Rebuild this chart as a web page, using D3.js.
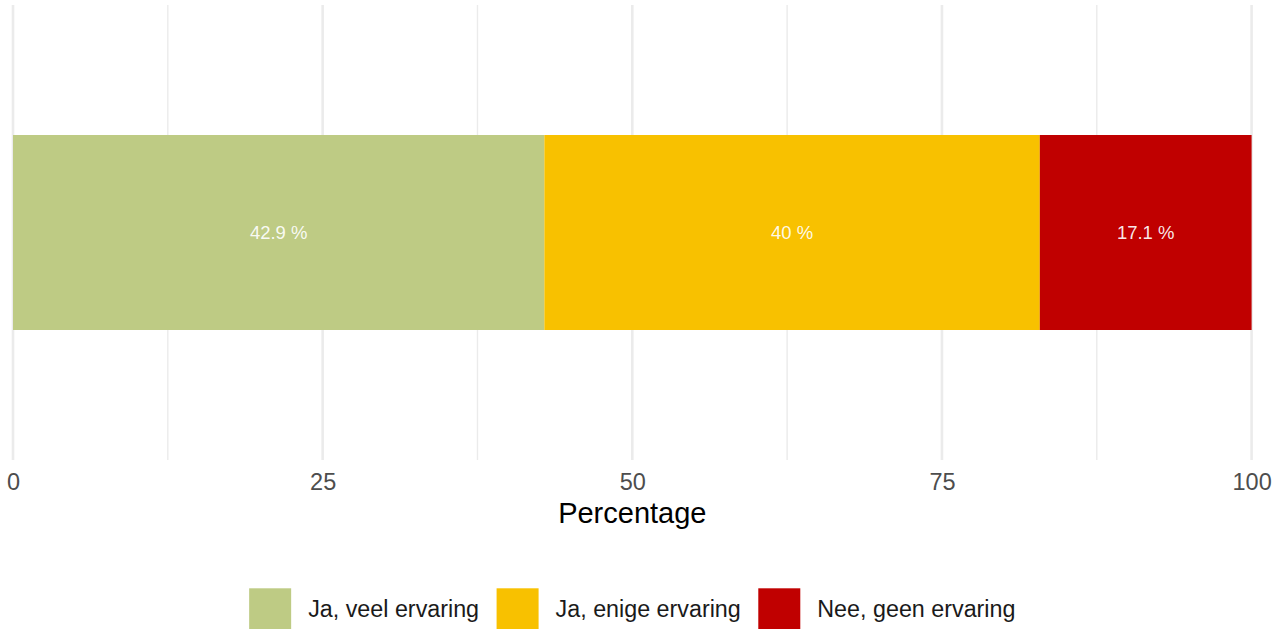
<!DOCTYPE html>
<html>
<head>
<meta charset="utf-8">
<script src="https://cdn.jsdelivr.net/npm/d3@7"></script>
<style>
  html, body { margin: 0; padding: 0; background: #ffffff; }
  svg { display: block; font-family: "Liberation Sans", Arial, sans-serif; }
</style>
</head>
<body>
<svg id="chart" width="1284" height="629"></svg>
<script>
// ---- data ----
const categories = ["Ja, veel ervaring", "Ja, enige ervaring", "Nee, geen ervaring"];
const values = [42.9, 40, 17.1];
const valueLabels = ["42.9 %", "40 %", "17.1 %"];
const colors = ["#becb84", "#f8c100", "#c00000"];
const majorTicks = [0, 25, 50, 75, 100];
const minorTicks = [12.5, 37.5, 62.5, 87.5];
const xTitle = "Percentage";

// ---- layout ----
const W = 1284, H = 629;
const plot = { left: 13, right: 1251.6, top: 5, bottom: 460 };
const svg = d3.select("#chart");

const x = d3.scaleLinear().domain([0, 100]).range([plot.left, plot.right]);

// grid
svg.append("g").selectAll("line").data(minorTicks).join("line")
  .attr("x1", d => x(d)).attr("x2", d => x(d))
  .attr("y1", plot.top).attr("y2", plot.bottom)
  .attr("stroke", "#ebebeb").attr("stroke-width", 1.4);
svg.append("g").selectAll("line").data(majorTicks).join("line")
  .attr("x1", d => x(d)).attr("x2", d => x(d))
  .attr("y1", plot.top).attr("y2", plot.bottom)
  .attr("stroke", "#ebebeb").attr("stroke-width", 2.6);

// stacked bar
const starts = values.map((v, i) => d3.sum(values.slice(0, i)));
const bt = 135, bb = 330;
const yb = d3.scaleLinear().domain([0, 1]).range([bt, bb]);
const segs = svg.append("g").selectAll("g").data(values).join("g");
segs.append("rect")
  .attr("x", (d, i) => x(starts[i]))
  .attr("width", (d, i) => x(starts[i] + d) - x(starts[i]))
  .attr("y", yb(0)).attr("height", yb(1) - yb(0))
  .attr("fill", (d, i) => colors[i]);
segs.append("text")
  .attr("x", (d, i) => x(starts[i] + d / 2))
  .attr("y", (yb(0) + yb(1)) / 2)
  .attr("dy", "0.35em")
  .attr("text-anchor", "middle")
  .attr("fill", "#ffffff")
  .attr("fill-opacity", 0.92)
  .style("font-size", "18.5px")
  .text((d, i) => valueLabels[i]);

// x axis (no line, no ticks)
const axis = d3.axisBottom(x).tickValues(majorTicks).tickSize(0).tickPadding(0).tickFormat(d3.format("d"));
const ax = svg.append("g").attr("transform", `translate(0, ${490})`).call(axis);
ax.select(".domain").remove();
ax.selectAll("text")
  .attr("y", 0).attr("dy", 0)
  .attr("fill", "#4d4d4d")
  .style("font-size", "23.5px")
  .style("font-family", "'Liberation Sans', Arial, sans-serif");

// axis title
svg.append("text")
  .attr("x", (plot.left + plot.right) / 2)
  .attr("y", 523)
  .attr("text-anchor", "middle")
  .attr("fill", "#000000")
  .style("font-size", "29px")
  .text(xTitle);

// legend
const legend = svg.append("g");
const keySize = 42, keyGap = 17, itemGap = 17.5;
const items = legend.selectAll("g").data(categories).join("g");
items.append("rect")
  .attr("width", keySize).attr("height", keySize)
  .attr("y", 588.3)
  .attr("fill", (d, i) => colors[i]);
items.append("text")
  .attr("x", keySize + keyGap)
  .attr("y", 617.3)
  .attr("fill", "#1a1a1a")
  .style("font-size", "23.3px")
  .text(d => d);
let widths = [];
items.selectAll("text").each(function () { widths.push(this.getComputedTextLength()); });
let total = 0;
const offsets = widths.map((w, i) => {
  const o = total;
  total += keySize + keyGap + w + (i < widths.length - 1 ? itemGap : 0);
  return o;
});
const lx0 = (plot.left + plot.right) / 2 - total / 2;
items.attr("transform", (d, i) => `translate(${lx0 + offsets[i]}, 0)`);
</script>
</body>
</html>
